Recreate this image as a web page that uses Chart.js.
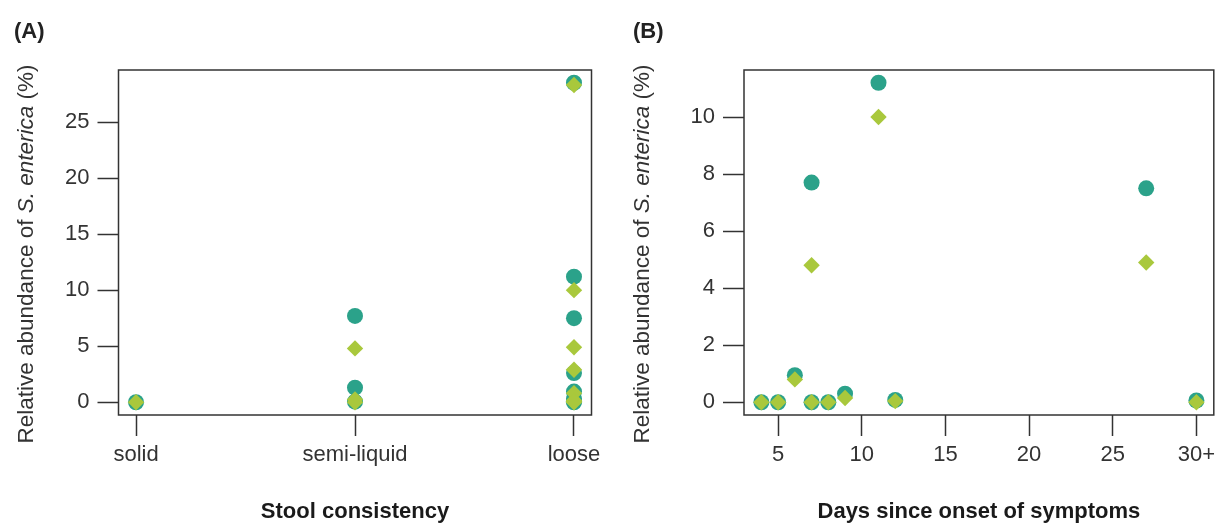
<!DOCTYPE html>
<html>
<head>
<meta charset="utf-8">
<script src="https://cdn.jsdelivr.net/npm/chart.js@4.4.0/dist/chart.umd.min.js"></script>
<style>
  html, body { margin: 0; padding: 0; background: #fff; }
  #wrap { position: relative; width: 1222px; height: 527px; overflow: hidden; }
  .panel { position: absolute; top: 0; width: 611px; height: 527px; }
  .tag { position: absolute; top: 18px; font: bold 22px "Liberation Sans", Arial, sans-serif; color: #222; }
</style>
</head>
<body>
<div id="wrap">
  <div class="panel" style="left:0"><canvas id="chartA" width="611" height="527"></canvas></div>
  <div class="panel" style="left:611px"><canvas id="chartB" width="611" height="527"></canvas></div>
  <div class="tag" style="left:14px">(A)</div>
  <div class="tag" style="left:633px">(B)</div>
</div>
<script>
// panel A: abundance by stool consistency
const categories = ["solid", "semi-liquid", "loose"];
const stoolGroup = [1, 2, 2, 2, 3, 3, 3, 3, 3, 3, 3, 3];
const stoolCircle = [0, 7.7, 1.3, 0.05, 28.5, 11.2, 7.5, 2.6, 0.95, 0.3, 0.08, 0];
const stoolDiamond = [0, 4.8, 0.25, 0, 28.3, 10.0, 4.9, 2.9, 0.8, 0.15, 0.04, 0];
const stoolYTicks = [0, 5, 10, 15, 20, 25];

// panel B: abundance by days since onset (30 = "30+")
const onsetDays = [4, 5, 6, 7, 7, 8, 9, 11, 12, 27, 30];
const onsetCircle = [0, 0, 0.95, 0, 7.7, 0, 0.3, 11.2, 0.08, 7.5, 0.06];
const onsetDiamond = [0, 0, 0.8, 0, 4.8, 0, 0.15, 10.0, 0.04, 4.9, 0];
const dayTicks = [5, 10, 15, 20, 25, 30];
const dayTickLabels = ["5", "10", "15", "20", "25", "30+"];
const onsetYTicks = [0, 2, 4, 6, 8, 10];

const teal = "#2ba28a";
const lime = "#a9c83c";
const ink = "#333333";
const FONT = "'Liberation Sans', Arial, sans-serif";

// R-style axis limits: data range widened by 4% each side
function rRange(vals) {
  const lo = Math.min(...vals), hi = Math.max(...vals);
  const pad = (hi - lo) * 0.04;
  return [lo - pad, hi + pad];
}

const boxPlugin = {
  id: "box",
  beforeDatasetsDraw(chart) {
    const { ctx, chartArea: a } = chart;
    ctx.save();
    ctx.strokeStyle = ink;
    ctx.lineWidth = 1.5;
    ctx.strokeRect(a.left, a.top, a.right - a.left, a.bottom - a.top);
    ctx.restore();
  }
};

// rotated y title with the species name in italics
const yTitlePlugin = {
  id: "yTitle",
  afterDraw(chart, args, opts) {
    const ctx = chart.ctx;
    const parts = [
      ["Relative abundance of ", "normal"],
      ["S. enterica", "italic"],
      [" (%)", "normal"]
    ];
    ctx.save();
    ctx.translate(opts.x, opts.y);
    ctx.rotate(-Math.PI / 2);
    ctx.fillStyle = ink;
    ctx.textBaseline = "middle";
    let total = 0;
    const widths = parts.map(([t, st]) => {
      ctx.font = st + " " + opts.size + "px " + FONT;
      const w = ctx.measureText(t).width;
      total += w;
      return w;
    });
    let cx = -total / 2;
    parts.forEach(([t, st], i) => {
      ctx.font = st + " " + opts.size + "px " + FONT;
      ctx.fillText(t, cx, 0);
      cx += widths[i];
    });
    ctx.restore();
  }
};

function makePanel(id, xs, circles, diamonds, xTicks, xLabels, yTicks, xTitle, area, titleX) {
  const [xMin, xMax] = rRange(xs);
  const [yMin, yMax] = rRange(circles.concat(diamonds));
  const tickFont = { family: FONT, size: 22 };
  const gridOpts = {
    drawOnChartArea: false,
    drawTicks: true,
    tickLength: 21,
    tickColor: ink,
    tickWidth: 1.5
  };
  return new Chart(document.getElementById(id), {
    type: "scatter",
    data: {
      datasets: [
        {
          data: xs.map((x, i) => ({ x: x, y: diamonds[i] })),
          pointStyle: "rectRot",
          backgroundColor: lime,
          borderWidth: 0,
          pointRadius: 8.2,
          pointHoverRadius: 8.2,
          order: 1
        },
        {
          data: xs.map((x, i) => ({ x: x, y: circles[i] })),
          pointStyle: "circle",
          backgroundColor: teal,
          borderWidth: 0,
          pointRadius: 8,
          pointHoverRadius: 8,
          order: 2
        }
      ]
    },
    options: {
      responsive: false,
      animation: false,
      devicePixelRatio: 1,
      layout: { padding: { top: area.top, right: 611 - area.right, left: 0, bottom: 0 } },
      plugins: {
        legend: { display: false },
        tooltip: { enabled: false },
        yTitle: { x: titleX, y: 254, size: 22.5 }
      },
      scales: {
        x: {
          type: "linear",
          min: xMin,
          max: xMax,
          afterBuildTicks: (s) => { s.ticks = xTicks.map((v) => ({ value: v })); },
          afterFit: (s) => { s.height = 527 - area.bottom; },
          ticks: {
            callback: (v) => xLabels[xTicks.indexOf(v)],
            autoSkip: false,
            maxRotation: 0,
            font: tickFont,
            color: ink,
            padding: 6
          },
          grid: gridOpts,
          border: { display: false },
          title: {
            display: true,
            text: xTitle,
            font: { family: FONT, size: 22, weight: "bold" },
            color: "#1a1a1a",
            padding: { top: 0, bottom: 2 }
          }
        },
        y: {
          min: yMin,
          max: yMax,
          afterBuildTicks: (s) => { s.ticks = yTicks.map((v) => ({ value: v })); },
          afterFit: (s) => { s.width = area.left; },
          ticks: { font: tickFont, color: ink, padding: 8 },
          grid: gridOpts,
          border: { display: false }
        }
      }
    },
    plugins: [boxPlugin, yTitlePlugin]
  });
}

makePanel("chartA", stoolGroup, stoolCircle, stoolDiamond,
  [1, 2, 3], categories, stoolYTicks, "Stool consistency",
  { left: 118.5, right: 591.5, top: 70, bottom: 415 }, 27);

makePanel("chartB", onsetDays, onsetCircle, onsetDiamond,
  dayTicks, dayTickLabels, onsetYTicks, "Days since onset of symptoms",
  { left: 133, right: 606, top: 70, bottom: 415 }, 32);
</script>
</body>
</html>
